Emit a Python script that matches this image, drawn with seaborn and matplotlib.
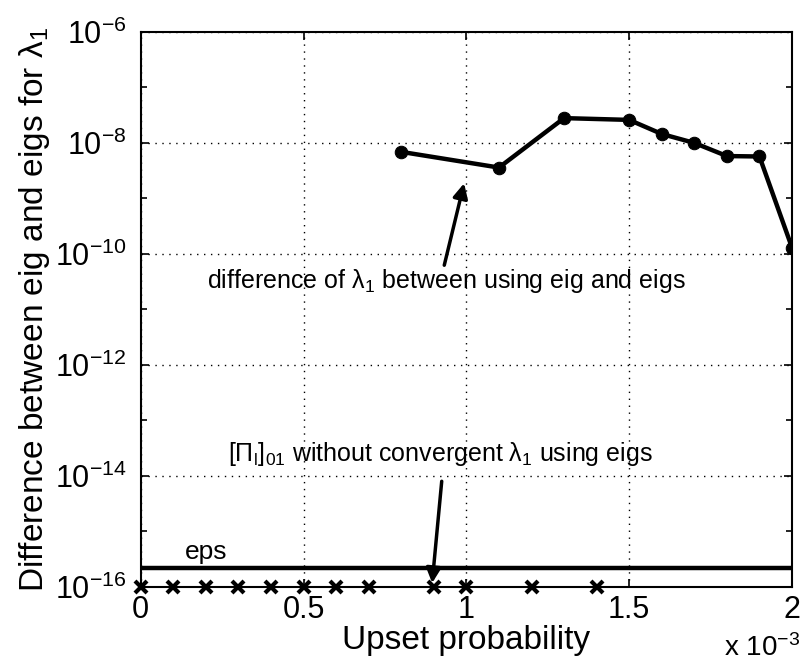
import matplotlib
matplotlib.use("Agg")
import matplotlib.pyplot as plt
import matplotlib.ticker as mticker
import seaborn as sns
import numpy as np
import pandas as pd

# data (x in real units, shown as x 10^-3)
upset_prob = [0.0008, 0.0011, 0.0013, 0.0015, 0.0016, 0.0017, 0.0018, 0.0019, 0.0020]
lambda_diff = [6.9e-9, 3.6e-9, 2.8e-8, 2.6e-8, 1.45e-8, 1.0e-8, 5.8e-9, 5.7e-9, 1.3e-10]

no_conv_prob = [0.0, 0.0001, 0.0002, 0.0003, 0.0004, 0.0005, 0.0006, 0.0007,
                0.0009, 0.0010, 0.0012, 0.0014]
no_conv_level = 1e-16

eps_value = 2.22e-16
x_ticks = [0, 0.0005, 0.001, 0.0015, 0.002]
x_tick_labels = ["0", "0.5", "1", "1.5", "2"]
y_ticks = [1e-16, 1e-14, 1e-12, 1e-10, 1e-8, 1e-6]

df = pd.DataFrame({"p": upset_prob, "diff": lambda_diff})

sns.set_style("ticks", {"text.color": "black", "axes.labelcolor": "black",
                        "xtick.color": "black", "ytick.color": "black",
                        "axes.edgecolor": "black"})
plt.rcParams["font.family"] = ["Liberation Sans", "DejaVu Sans"]
plt.rcParams["mathtext.fontset"] = "custom"
plt.rcParams["mathtext.rm"] = "Liberation Sans"
plt.rcParams["mathtext.it"] = "Liberation Sans"
plt.rcParams["mathtext.bf"] = "Liberation Sans:bold"

fig = plt.figure(figsize=(8, 6.72), dpi=100)
ax = fig.add_axes([0.176, 0.1265, 0.814, 0.826])

sns.lineplot(data=df, x="p", y="diff", ax=ax, color="black", lw=3.2,
             marker="o", markersize=9, markeredgecolor="black")
ax.axhline(eps_value, color="black", lw=3.2)
ax.plot(no_conv_prob, [no_conv_level] * len(no_conv_prob), ls="none",
        marker="x", color="black", markersize=9, mew=3, clip_on=False, zorder=5)

ax.set_yscale("log")
ax.set_xlim(0, 0.002)
ax.set_ylim(1e-16, 1e-6)
ax.set_xticks(x_ticks)
ax.set_xticklabels(x_tick_labels)
ax.set_yticks(y_ticks)
ax.yaxis.set_minor_locator(mticker.FixedLocator([1e-15, 1e-13, 1e-11, 1e-9, 1e-7]))
ax.yaxis.set_minor_formatter(mticker.NullFormatter())
ax.tick_params(axis="both", which="both", direction="in", top=True, right=True,
               labelsize=22, width=1.2, colors="black")
ax.tick_params(axis="both", which="major", length=6)
ax.tick_params(axis="y", which="major", pad=10)
ax.tick_params(axis="x", which="major", pad=6)
ax.tick_params(axis="y", which="minor", length=4)
for s in ax.spines.values():
    s.set_linewidth(1.5)
    s.set_visible(True)
    s.set_color("black")

ax.grid(True, which="major", ls=(0, (1, 4)), color="black", lw=1)

ax.set_xlabel("Upset probability", fontsize=24, labelpad=0, color="black")
ax.set_ylabel(r"Difference between eig and eigs for $\mathregular{λ_1}$", fontsize=24,
              labelpad=2, color="black")
ax.text(1.012, -0.085, r"x 10$^{-3}$", transform=ax.transAxes, fontsize=20,
        ha="right", va="top", color="black")

ax.text(0.00094, 3.2e-11, r"difference of $\mathregular{λ_1}$ between using eig and eigs",
        fontsize=18, ha="center", va="center", color="black")
ax.annotate("", xy=(0.000995, 2.1e-9), xytext=(0.00093, 5.6e-11),
            arrowprops=dict(arrowstyle="-|>", color="black", lw=2.5, mutation_scale=22))

ax.text(0.00092, 2.5e-14, r"$[\Pi_{\mathregular{l}}]_{01}$ without convergent $\mathregular{λ_1}$ using eigs",
        fontsize=18, ha="center", va="center", color="black")
ax.annotate("", xy=(0.000894, 1.05e-16), xytext=(0.000925, 9e-15),
            arrowprops=dict(arrowstyle="-|>", color="black", lw=2.5, mutation_scale=22))

ax.text(0.0002, 4.3e-16, "eps", fontsize=19, ha="center", va="center", color="black")

fig.savefig("out.png", dpi=100)
